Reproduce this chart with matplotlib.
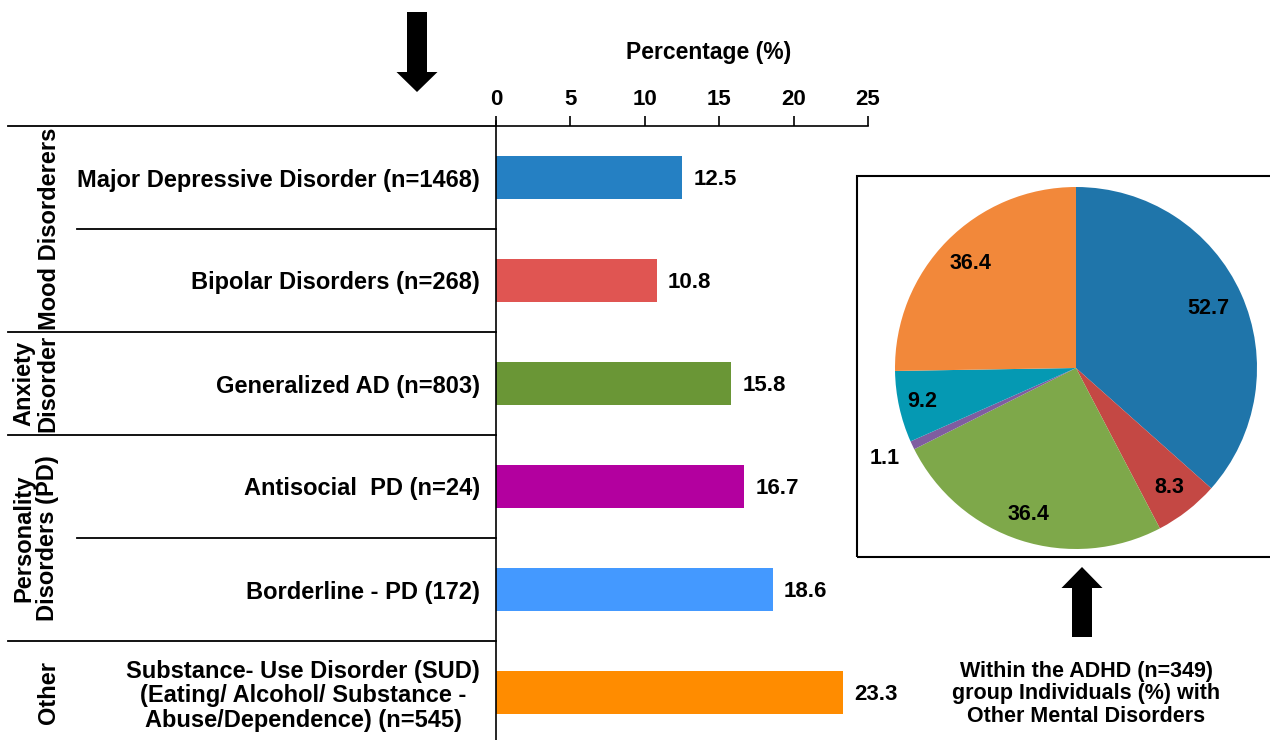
import matplotlib.pyplot as plt
from matplotlib.patches import FancyArrow, Rectangle
from matplotlib import transforms
import numpy as np

plt.rcParams['font.family'] = ['Liberation Sans', 'DejaVu Sans']
plt.rcParams['font.weight'] = 'bold'

# bar chart data
categories = ["Major Depressive Disorder (n=1468)",
              "Bipolar Disorders (n=268)",
              "Generalized AD (n=803)",
              "Antisocial  PD (n=24)",
              "Borderline - PD (172)",
              "Substance- Use Disorder (SUD)\n(Eating/ Alcohol/ Substance -\nAbuse/Dependence) (n=545)"]
percent = [12.5, 10.8, 15.8, 16.7, 18.6, 23.3]
bar_colors = ["#2580c3", "#e05552", "#6a9636", "#b3009f", "#4499ff", "#ff8c00"]

groups = ["Mood Disorderers", "Anxiety\nDisorder", "Personality\nDisorders (PD)", "Other"]
group_mid = [0.5, 2, 3.5, 5]
group_x = [50, 36, 36, 49]   # px
full_lines = [-0.5, 1.5, 2.5, 4.5]
part_lines = [0.5, 3.5]

# pie data
pie_vals = [52.7, 8.3, 36.4, 1.1, 9.2, 36.4]
pie_labels = ["52.7", "8.3", "36.4", "1.1", "9.2", "36.4"]
pie_colors = ["#1f75aa", "#c44844", "#7ea84a", "#7f5da0", "#0599b3", "#f2883a"]
pie_lab_r = [0.80, 0.84, 0.85, 1.17, 0.87, 0.82]

W, H = 1270, 740
fig = plt.figure(figsize=(12.7, 7.4), dpi=100)

ax = fig.add_axes([496 / W, 1 - 744 / H, 372 / W, 618 / H])
y = np.arange(len(categories))
ax.barh(y, percent, height=0.41, color=bar_colors)
ax.set_xlim(0, 25)
ax.set_ylim(5.5, -0.5)
ax.xaxis.tick_top()
ax.set_xticks([0, 5, 10, 15, 20, 25])
ax.tick_params(axis='x', labelsize=16, length=7, width=1.2, pad=4.5)
ax.set_yticks(y)
ax.set_yticklabels(categories, fontsize=17)
for lab in ax.get_yticklabels():
    lab.set_multialignment('center')
    lab.set_linespacing(1.1)
ax.tick_params(axis='y', length=0, pad=11.5)
for s in ['right', 'bottom']:
    ax.spines[s].set_visible(False)
ax.spines['top'].set_linewidth(1.2)
ax.spines['left'].set_linewidth(1.2)
ax.spines['left'].set_bounds(5.5, -0.55)

fig.text(709 / W, 1 - 53 / H, "Percentage (%)", ha='center', va='center', fontsize=16.5)

for yi, v in zip(y, percent):
    ax.text(v + 0.75, yi + 0.02, f"{v}", va='center', ha='left', fontsize=16)

blend = transforms.blended_transform_factory(fig.transFigure, ax.transData)
for ly in full_lines:
    ax.plot([8 / W, 496 / W], [ly, ly], color='black', lw=1.3, transform=blend, clip_on=False)
for ly in part_lines:
    ax.plot([77 / W, 496 / W], [ly, ly], color='black', lw=1.3, transform=blend, clip_on=False)
for g, gy, gx in zip(groups, group_mid, group_x):
    ax.text(gx / W, gy, g, rotation=90, ha='center', va='center', multialignment='center',
            fontsize=17, transform=blend, linespacing=1.05)

# pie
pax = fig.add_axes([(1076 - 181) / W, 1 - (368 + 181) / H, 362 / W, 362 / H])
wedges, _ = pax.pie(pie_vals, colors=pie_colors, startangle=90, counterclock=False,
                    wedgeprops=dict(linewidth=0))
for w, lab, r in zip(wedges, pie_labels, pie_lab_r):
    ang = np.deg2rad((w.theta1 + w.theta2) / 2)
    pax.text(r * np.cos(ang), r * np.sin(ang), lab, ha='center', va='center', fontsize=15.5)
pax.set_xlim(-1, 1)
pax.set_ylim(-1, 1)
pax.set_aspect('equal')

# box around pie
fig.patches.append(Rectangle((8.57, 1.83), 4.3, 3.81, fill=False, lw=1.5, ec='black',
                             transform=fig.dpi_scale_trans, figure=fig))

# arrows
fig.patches.append(FancyArrow(4.17, 7.28, 0, -0.80, width=0.20, head_width=0.41, head_length=0.20,
                              length_includes_head=True, color='black', lw=0,
                              transform=fig.dpi_scale_trans, figure=fig))
fig.patches.append(FancyArrow(10.82, 1.03, 0, 0.70, width=0.20, head_width=0.41, head_length=0.21,
                              length_includes_head=True, color='black', lw=0,
                              transform=fig.dpi_scale_trans, figure=fig))

fig.text(1086 / W, 1 - 694 / H, "Within the ADHD (n=349)\ngroup Individuals (%) with\nOther Mental Disorders",
         ha='center', va='center', fontsize=15.5, linespacing=1.12)

fig.savefig("out.png", dpi=100)
